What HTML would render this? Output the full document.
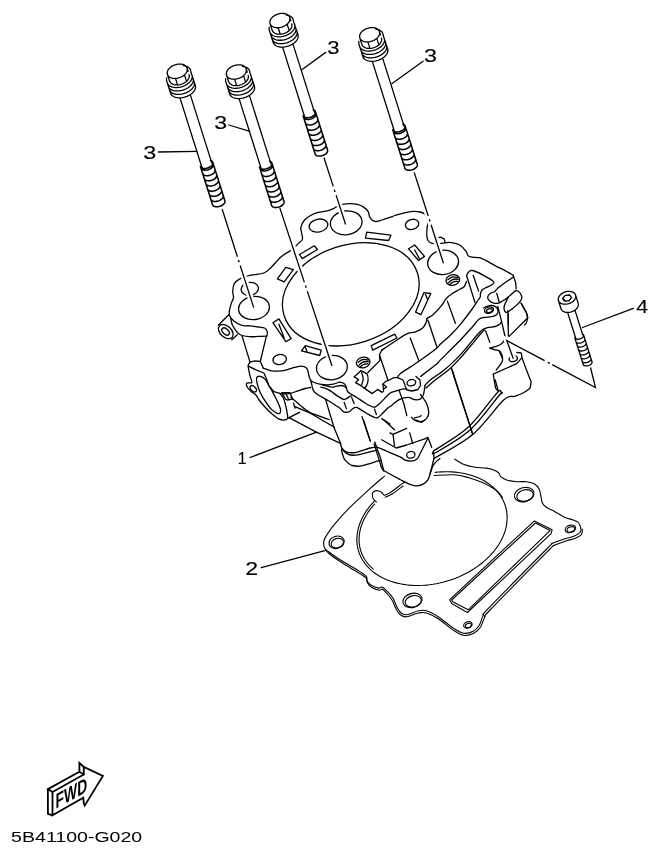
<!DOCTYPE html>
<html><head><meta charset="utf-8"><style>
html,body{margin:0;padding:0;background:#fff;}
body{width:660px;height:854px;overflow:hidden;position:relative;}
svg{position:absolute;left:0;top:0;filter:grayscale(1);}
.lbl{font-family:"Liberation Sans",sans-serif;}
</style></head><body>
<svg width="660" height="854" viewBox="0 0 660 854">
<g fill="none" stroke="#000" stroke-width="1.3" stroke-linejoin="round" stroke-linecap="round">
<path d="M187.07,68.15 L187.27,69.21 L187.22,70.31 L186.93,71.43 L186.40,72.56 L185.64,73.65 L184.68,74.68 L183.53,75.62 L182.23,76.46 L180.81,77.17 L179.29,77.74 L177.73,78.14 L176.16,78.37 L174.61,78.43 L173.13,78.32 L171.75,78.03 L170.50,77.57 L169.43,76.95 L168.54,76.20 L167.87,75.32 L167.43,74.35 L167.23,73.29 L167.28,72.19 L167.57,71.07 L168.10,69.94 L168.86,68.85 L169.82,67.82 L170.97,66.88 L172.27,66.04 L173.69,65.33 L175.21,64.76 L176.77,64.36 L178.34,64.13 L179.89,64.07 L181.37,64.18 L182.75,64.47 L184.00,64.93 L185.07,65.55 L185.96,66.30 L186.63,67.18 L187.07,68.15Z M167.43,74.35 L169.47,80.83 M187.07,68.15 L188.13,71.49 M189.12,74.64 L189.30,75.51 L189.31,76.42 L189.15,77.36 L188.82,78.30 L188.33,79.23 L187.69,80.13 L186.90,80.99 L185.98,81.80 L184.94,82.54 L183.81,83.20 L182.60,83.76 L181.34,84.22 L180.04,84.57 L178.73,84.80 L177.42,84.91 L176.15,84.90 L174.94,84.77 L173.79,84.51 L172.75,84.14 L171.81,83.66 L171.00,83.08 L170.34,82.41 L169.82,81.65 L169.47,80.83 M175.53,78.42 L177.57,84.91 M184.47,74.87 L186.52,81.35 M183.41,65.63 L184.48,65.79 L185.50,66.03 L186.45,66.34 L187.32,66.72 L188.11,67.17 L188.81,67.68 L189.41,68.25 L189.90,68.88 L190.29,69.55 L190.57,70.27 L190.73,71.02 L190.78,71.80 M166.52,77.78 L166.51,80.40 L170.54,93.18 M190.78,71.80 L195.33,85.37 M192.08,75.07 L192.29,76.10 L192.28,77.17 L192.06,78.28 L191.63,79.40 L190.99,80.52 L190.15,81.61 L189.14,82.65 L187.97,83.63 L186.65,84.53 L185.22,85.33 L183.69,86.03 L182.09,86.60 L180.45,87.05 L178.80,87.36 L177.16,87.52 L175.57,87.54 L174.05,87.41 L172.62,87.13 L171.31,86.72 L170.15,86.18 L169.15,85.51 L168.33,84.73 L167.71,83.85 L167.29,82.88 M193.17,78.50 L193.37,79.53 L193.37,80.61 L193.14,81.72 L192.71,82.84 L192.07,83.95 L191.24,85.04 L190.22,86.08 L189.05,87.06 L187.74,87.96 L186.30,88.77 L184.77,89.46 L183.17,90.04 L181.54,90.48 L179.88,90.79 L178.25,90.95 L176.65,90.97 L175.13,90.84 L173.70,90.57 L172.40,90.15 L171.23,89.61 L170.23,88.94 L169.42,88.16 L168.79,87.28 L168.37,86.32 M194.25,81.93 L194.46,82.96 L194.45,84.04 L194.23,85.15 L193.79,86.27 L193.15,87.39 L192.32,88.47 L191.31,89.52 L190.13,90.49 L188.82,91.39 L187.38,92.20 L185.85,92.90 L184.26,93.47 L182.62,93.92 L180.97,94.22 L179.33,94.39 L177.73,94.40 L176.21,94.27 L174.78,94.00 L173.48,93.59 L172.32,93.04 L171.32,92.37 L170.50,91.59 L169.87,90.71 L169.45,89.75 M195.33,85.37 L195.54,86.40 L195.53,87.47 L195.31,88.58 L194.87,89.70 L194.23,90.82 L193.40,91.91 L192.39,92.95 L191.22,93.93 L189.90,94.83 L188.47,95.63 L186.94,96.33 L185.34,96.90 L183.70,97.35 L182.05,97.66 L180.41,97.82 L178.82,97.84 L177.29,97.71 L175.87,97.43 L174.56,97.02 L173.40,96.48 L172.40,95.81 L171.58,95.03 L170.96,94.15 L170.54,93.18 M179.97,97.84 L202.02,167.77 M190.27,94.59 L211.87,163.09 "/><path d=" M200.91,167.91 L212.49,204.63 M212.80,162.38 L224.89,200.72 M210.60,160.50 L211.46,160.86 L212.14,161.35 L212.61,161.95 L212.86,162.63 L212.88,163.38 L212.67,164.16 L212.24,164.95 L211.60,165.71 L210.78,166.43 L209.80,167.07 L208.70,167.60 L207.53,168.02 L206.32,168.30 L205.12,168.44 L203.98,168.42 L202.94,168.26 L202.02,167.95 L201.28,167.50 L200.73,166.94 L200.40,166.29 M213.34,164.09 L213.44,164.69 L213.39,165.31 L213.18,165.95 L212.83,166.60 L212.33,167.23 L211.71,167.83 L210.97,168.39 L210.14,168.89 L209.24,169.32 L208.28,169.67 L207.30,169.93 L206.31,170.10 L205.34,170.17 L204.42,170.13 L203.56,169.99 L202.80,169.76 L202.14,169.44 L201.60,169.03 L201.20,168.55 L200.94,168.00 M215.08,169.63 L215.19,170.22 L215.13,170.84 L214.93,171.48 L214.57,172.13 L214.08,172.76 L213.45,173.36 L212.72,173.92 L211.89,174.42 L210.98,174.85 L210.03,175.21 L209.04,175.47 L208.06,175.63 L207.09,175.70 L206.16,175.66 L205.31,175.53 L204.54,175.29 L203.88,174.97 L203.34,174.56 L202.94,174.08 L202.69,173.54 M216.71,174.78 L216.81,175.37 L216.76,175.99 L216.55,176.63 L216.19,177.28 L215.70,177.91 L215.08,178.51 L214.34,179.07 L213.51,179.57 L212.61,180.00 L211.65,180.36 L210.67,180.62 L209.68,180.78 L208.71,180.85 L207.79,180.81 L206.93,180.68 L206.16,180.44 L205.50,180.12 L204.97,179.71 L204.56,179.23 L204.31,178.69 M218.33,179.93 L218.43,180.52 L218.38,181.14 L218.17,181.78 L217.82,182.43 L217.32,183.06 L216.70,183.66 L215.96,184.22 L215.13,184.72 L214.23,185.15 L213.27,185.51 L212.29,185.77 L211.30,185.93 L210.34,186.00 L209.41,185.96 L208.56,185.83 L207.79,185.59 L207.13,185.27 L206.59,184.86 L206.19,184.38 L205.93,183.84 M219.95,185.08 L220.06,185.67 L220.00,186.29 L219.80,186.94 L219.44,187.58 L218.95,188.21 L218.32,188.81 L217.59,189.37 L216.76,189.87 L215.85,190.30 L214.90,190.66 L213.91,190.92 L212.93,191.08 L211.96,191.15 L211.04,191.11 L210.18,190.98 L209.41,190.74 L208.75,190.42 L208.21,190.01 L207.81,189.53 L207.56,188.99 M221.58,190.23 L221.68,190.82 L221.63,191.44 L221.42,192.09 L221.07,192.73 L220.57,193.36 L219.95,193.96 L219.21,194.52 L218.38,195.02 L217.48,195.46 L216.52,195.81 L215.54,196.07 L214.55,196.23 L213.58,196.30 L212.66,196.26 L211.80,196.13 L211.04,195.89 L210.37,195.57 L209.84,195.16 L209.44,194.68 L209.18,194.14 M223.20,195.38 L223.30,195.97 L223.25,196.59 L223.05,197.24 L222.69,197.88 L222.19,198.51 L221.57,199.11 L220.84,199.67 L220.01,200.17 L219.10,200.61 L218.15,200.96 L217.16,201.22 L216.17,201.38 L215.21,201.45 L214.28,201.41 L213.43,201.28 L212.66,201.04 L212.00,200.72 L211.46,200.31 L211.06,199.83 L210.80,199.29 M224.89,200.72 L224.99,201.31 L224.94,201.93 L224.73,202.58 L224.37,203.22 L223.88,203.85 L223.26,204.46 L222.52,205.01 L221.69,205.51 L220.79,205.95 L219.83,206.30 L218.85,206.56 L217.86,206.72 L216.89,206.79 L215.97,206.75 L215.11,206.62 L214.34,206.38 L213.68,206.06 L213.14,205.65 L212.74,205.17 L212.49,204.63" stroke-width="1.55"/><path d="M246.17,68.90 L246.37,69.96 L246.32,71.06 L246.03,72.18 L245.50,73.31 L244.74,74.40 L243.78,75.43 L242.63,76.37 L241.33,77.21 L239.91,77.92 L238.39,78.49 L236.83,78.89 L235.26,79.12 L233.71,79.18 L232.23,79.07 L230.85,78.78 L229.60,78.32 L228.53,77.70 L227.64,76.95 L226.97,76.07 L226.53,75.10 L226.33,74.04 L226.38,72.94 L226.67,71.82 L227.20,70.69 L227.96,69.60 L228.92,68.57 L230.07,67.63 L231.37,66.79 L232.79,66.08 L234.31,65.51 L235.87,65.11 L237.44,64.88 L238.99,64.82 L240.47,64.93 L241.85,65.22 L243.10,65.68 L244.17,66.30 L245.06,67.05 L245.73,67.93 L246.17,68.90Z M226.53,75.10 L228.57,81.58 M246.17,68.90 L247.23,72.24 M248.22,75.39 L248.40,76.26 L248.41,77.17 L248.25,78.11 L247.92,79.05 L247.43,79.98 L246.79,80.88 L246.00,81.74 L245.08,82.55 L244.04,83.29 L242.91,83.95 L241.70,84.51 L240.44,84.97 L239.14,85.32 L237.83,85.55 L236.52,85.66 L235.25,85.65 L234.04,85.52 L232.89,85.26 L231.85,84.89 L230.91,84.41 L230.10,83.83 L229.44,83.16 L228.92,82.40 L228.57,81.58 M234.63,79.17 L236.67,85.66 M243.57,75.62 L245.62,82.10 M242.51,66.38 L243.58,66.54 L244.60,66.78 L245.55,67.09 L246.42,67.47 L247.21,67.92 L247.91,68.43 L248.51,69.00 L249.00,69.63 L249.39,70.30 L249.67,71.02 L249.83,71.77 L249.88,72.55 M225.62,78.53 L225.61,81.15 L229.64,93.93 M249.88,72.55 L254.43,86.12 M251.18,75.82 L251.39,76.85 L251.38,77.92 L251.16,79.03 L250.73,80.15 L250.09,81.27 L249.25,82.36 L248.24,83.40 L247.07,84.38 L245.75,85.28 L244.32,86.08 L242.79,86.78 L241.19,87.35 L239.55,87.80 L237.90,88.11 L236.26,88.27 L234.67,88.29 L233.15,88.16 L231.72,87.88 L230.41,87.47 L229.25,86.93 L228.25,86.26 L227.43,85.48 L226.81,84.60 L226.39,83.63 M252.27,79.25 L252.47,80.28 L252.47,81.36 L252.24,82.47 L251.81,83.59 L251.17,84.70 L250.34,85.79 L249.32,86.83 L248.15,87.81 L246.84,88.71 L245.40,89.52 L243.87,90.21 L242.27,90.79 L240.64,91.23 L238.98,91.54 L237.35,91.70 L235.75,91.72 L234.23,91.59 L232.80,91.32 L231.50,90.90 L230.33,90.36 L229.33,89.69 L228.52,88.91 L227.89,88.03 L227.47,87.07 M253.35,82.68 L253.56,83.71 L253.55,84.79 L253.33,85.90 L252.89,87.02 L252.25,88.14 L251.42,89.22 L250.41,90.27 L249.23,91.24 L247.92,92.14 L246.48,92.95 L244.95,93.65 L243.36,94.22 L241.72,94.67 L240.07,94.97 L238.43,95.14 L236.83,95.15 L235.31,95.02 L233.88,94.75 L232.58,94.34 L231.42,93.79 L230.42,93.12 L229.60,92.34 L228.97,91.46 L228.55,90.50 M254.43,86.12 L254.64,87.15 L254.63,88.22 L254.41,89.33 L253.97,90.45 L253.33,91.57 L252.50,92.66 L251.49,93.70 L250.32,94.68 L249.00,95.58 L247.57,96.38 L246.04,97.08 L244.44,97.65 L242.80,98.10 L241.15,98.41 L239.51,98.57 L237.92,98.59 L236.39,98.46 L234.97,98.18 L233.66,97.77 L232.50,97.23 L231.50,96.56 L230.68,95.78 L230.06,94.90 L229.64,93.93 M239.07,98.59 L261.12,168.52 M249.37,95.34 L270.97,163.84 "/><path d=" M260.01,168.66 L271.59,205.38 M271.90,163.13 L283.99,201.47 M269.70,161.25 L270.56,161.61 L271.24,162.10 L271.71,162.70 L271.96,163.38 L271.98,164.13 L271.77,164.91 L271.34,165.70 L270.70,166.46 L269.88,167.18 L268.90,167.82 L267.80,168.35 L266.63,168.77 L265.42,169.05 L264.22,169.19 L263.08,169.17 L262.04,169.01 L261.12,168.70 L260.38,168.25 L259.83,167.69 L259.50,167.04 M272.44,164.84 L272.54,165.44 L272.49,166.06 L272.28,166.70 L271.93,167.35 L271.43,167.98 L270.81,168.58 L270.07,169.14 L269.24,169.64 L268.34,170.07 L267.38,170.42 L266.40,170.68 L265.41,170.85 L264.44,170.92 L263.52,170.88 L262.66,170.74 L261.90,170.51 L261.24,170.19 L260.70,169.78 L260.30,169.30 L260.04,168.75 M274.18,170.38 L274.29,170.97 L274.23,171.59 L274.03,172.23 L273.67,172.88 L273.18,173.51 L272.55,174.11 L271.82,174.67 L270.99,175.17 L270.08,175.60 L269.13,175.96 L268.14,176.22 L267.16,176.38 L266.19,176.45 L265.26,176.41 L264.41,176.28 L263.64,176.04 L262.98,175.72 L262.44,175.31 L262.04,174.83 L261.79,174.29 M275.81,175.53 L275.91,176.12 L275.86,176.74 L275.65,177.38 L275.29,178.03 L274.80,178.66 L274.18,179.26 L273.44,179.82 L272.61,180.32 L271.71,180.75 L270.75,181.11 L269.77,181.37 L268.78,181.53 L267.81,181.60 L266.89,181.56 L266.03,181.43 L265.26,181.19 L264.60,180.87 L264.07,180.46 L263.66,179.98 L263.41,179.44 M277.43,180.68 L277.53,181.27 L277.48,181.89 L277.27,182.53 L276.92,183.18 L276.42,183.81 L275.80,184.41 L275.06,184.97 L274.23,185.47 L273.33,185.90 L272.37,186.26 L271.39,186.52 L270.40,186.68 L269.44,186.75 L268.51,186.71 L267.66,186.58 L266.89,186.34 L266.23,186.02 L265.69,185.61 L265.29,185.13 L265.03,184.59 M279.05,185.83 L279.16,186.42 L279.10,187.04 L278.90,187.69 L278.54,188.33 L278.05,188.96 L277.42,189.56 L276.69,190.12 L275.86,190.62 L274.95,191.05 L274.00,191.41 L273.01,191.67 L272.03,191.83 L271.06,191.90 L270.14,191.86 L269.28,191.73 L268.51,191.49 L267.85,191.17 L267.31,190.76 L266.91,190.28 L266.66,189.74 M280.68,190.98 L280.78,191.57 L280.73,192.19 L280.52,192.84 L280.17,193.48 L279.67,194.11 L279.05,194.71 L278.31,195.27 L277.48,195.77 L276.58,196.21 L275.62,196.56 L274.64,196.82 L273.65,196.98 L272.68,197.05 L271.76,197.01 L270.90,196.88 L270.14,196.64 L269.47,196.32 L268.94,195.91 L268.54,195.43 L268.28,194.89 M282.30,196.13 L282.40,196.72 L282.35,197.34 L282.15,197.99 L281.79,198.63 L281.29,199.26 L280.67,199.86 L279.94,200.42 L279.11,200.92 L278.20,201.36 L277.25,201.71 L276.26,201.97 L275.27,202.13 L274.31,202.20 L273.38,202.16 L272.53,202.03 L271.76,201.79 L271.10,201.47 L270.56,201.06 L270.16,200.58 L269.90,200.04 M283.99,201.47 L284.09,202.06 L284.04,202.68 L283.83,203.33 L283.47,203.97 L282.98,204.60 L282.36,205.21 L281.62,205.76 L280.79,206.26 L279.89,206.70 L278.93,207.05 L277.95,207.31 L276.96,207.47 L275.99,207.54 L275.07,207.50 L274.21,207.37 L273.44,207.13 L272.78,206.81 L272.24,206.40 L271.84,205.92 L271.59,205.38" stroke-width="1.55"/><path d="M289.72,17.45 L289.92,18.51 L289.87,19.61 L289.58,20.73 L289.05,21.86 L288.29,22.95 L287.33,23.98 L286.18,24.92 L284.88,25.76 L283.46,26.47 L281.94,27.04 L280.38,27.44 L278.81,27.67 L277.26,27.73 L275.78,27.62 L274.40,27.33 L273.15,26.87 L272.08,26.25 L271.19,25.50 L270.52,24.62 L270.08,23.65 L269.88,22.59 L269.93,21.49 L270.22,20.37 L270.75,19.24 L271.51,18.15 L272.47,17.12 L273.62,16.18 L274.92,15.34 L276.34,14.63 L277.86,14.06 L279.42,13.66 L280.99,13.43 L282.54,13.37 L284.02,13.48 L285.40,13.77 L286.65,14.23 L287.72,14.85 L288.61,15.60 L289.28,16.48 L289.72,17.45Z M270.08,23.65 L272.12,30.13 M289.72,17.45 L290.78,20.79 M291.77,23.94 L291.95,24.81 L291.96,25.72 L291.80,26.66 L291.47,27.60 L290.98,28.53 L290.34,29.43 L289.55,30.29 L288.63,31.10 L287.59,31.84 L286.46,32.50 L285.25,33.06 L283.99,33.52 L282.69,33.87 L281.38,34.10 L280.07,34.21 L278.80,34.20 L277.59,34.07 L276.44,33.81 L275.40,33.44 L274.46,32.96 L273.65,32.38 L272.99,31.71 L272.47,30.95 L272.12,30.13 M278.18,27.72 L280.22,34.21 M287.12,24.17 L289.17,30.65 M286.06,14.93 L287.13,15.09 L288.15,15.33 L289.10,15.64 L289.97,16.02 L290.76,16.47 L291.46,16.98 L292.06,17.55 L292.55,18.18 L292.94,18.85 L293.22,19.57 L293.38,20.32 L293.43,21.10 M269.17,27.08 L269.16,29.70 L273.19,42.48 M293.43,21.10 L297.98,34.67 M294.73,24.37 L294.94,25.40 L294.93,26.47 L294.71,27.58 L294.28,28.70 L293.64,29.82 L292.80,30.91 L291.79,31.95 L290.62,32.93 L289.30,33.83 L287.87,34.63 L286.34,35.33 L284.74,35.90 L283.10,36.35 L281.45,36.66 L279.81,36.82 L278.22,36.84 L276.70,36.71 L275.27,36.43 L273.96,36.02 L272.80,35.48 L271.80,34.81 L270.98,34.03 L270.36,33.15 L269.94,32.18 M295.82,27.80 L296.02,28.83 L296.02,29.91 L295.79,31.02 L295.36,32.14 L294.72,33.25 L293.89,34.34 L292.87,35.38 L291.70,36.36 L290.39,37.26 L288.95,38.07 L287.42,38.76 L285.82,39.34 L284.19,39.78 L282.53,40.09 L280.90,40.25 L279.30,40.27 L277.78,40.14 L276.35,39.87 L275.05,39.45 L273.88,38.91 L272.88,38.24 L272.07,37.46 L271.44,36.58 L271.02,35.62 M296.90,31.23 L297.11,32.26 L297.10,33.34 L296.88,34.45 L296.44,35.57 L295.80,36.69 L294.97,37.77 L293.96,38.82 L292.78,39.79 L291.47,40.69 L290.03,41.50 L288.50,42.20 L286.91,42.77 L285.27,43.22 L283.62,43.52 L281.98,43.69 L280.38,43.70 L278.86,43.57 L277.43,43.30 L276.13,42.89 L274.97,42.34 L273.97,41.67 L273.15,40.89 L272.52,40.01 L272.10,39.05 M297.98,34.67 L298.19,35.70 L298.18,36.77 L297.96,37.88 L297.52,39.00 L296.88,40.12 L296.05,41.21 L295.04,42.25 L293.87,43.23 L292.55,44.13 L291.12,44.93 L289.59,45.63 L287.99,46.20 L286.35,46.65 L284.70,46.96 L283.06,47.12 L281.47,47.14 L279.94,47.01 L278.52,46.73 L277.21,46.32 L276.05,45.78 L275.05,45.11 L274.23,44.33 L273.61,43.45 L273.19,42.48 M282.62,47.14 L304.67,117.07 M292.92,43.89 L314.52,112.39 "/><path d=" M303.56,117.21 L315.14,153.93 M315.45,111.68 L327.54,150.02 M313.25,109.80 L314.11,110.16 L314.79,110.65 L315.26,111.25 L315.51,111.93 L315.53,112.68 L315.32,113.46 L314.89,114.25 L314.25,115.01 L313.43,115.73 L312.45,116.37 L311.35,116.90 L310.18,117.32 L308.97,117.60 L307.77,117.74 L306.63,117.72 L305.59,117.56 L304.67,117.25 L303.93,116.80 L303.38,116.24 L303.05,115.59 M315.99,113.39 L316.09,113.99 L316.04,114.61 L315.83,115.25 L315.48,115.90 L314.98,116.53 L314.36,117.13 L313.62,117.69 L312.79,118.19 L311.89,118.62 L310.93,118.97 L309.95,119.23 L308.96,119.40 L307.99,119.47 L307.07,119.43 L306.21,119.29 L305.45,119.06 L304.79,118.74 L304.25,118.33 L303.85,117.85 L303.59,117.30 M317.73,118.93 L317.84,119.52 L317.78,120.14 L317.58,120.78 L317.22,121.43 L316.73,122.06 L316.10,122.66 L315.37,123.22 L314.54,123.72 L313.63,124.15 L312.68,124.51 L311.69,124.77 L310.71,124.93 L309.74,125.00 L308.81,124.96 L307.96,124.83 L307.19,124.59 L306.53,124.27 L305.99,123.86 L305.59,123.38 L305.34,122.84 M319.36,124.08 L319.46,124.67 L319.41,125.29 L319.20,125.93 L318.84,126.58 L318.35,127.21 L317.73,127.81 L316.99,128.37 L316.16,128.87 L315.26,129.30 L314.30,129.66 L313.32,129.92 L312.33,130.08 L311.36,130.15 L310.44,130.11 L309.58,129.98 L308.81,129.74 L308.15,129.42 L307.62,129.01 L307.21,128.53 L306.96,127.99 M320.98,129.23 L321.08,129.82 L321.03,130.44 L320.82,131.08 L320.47,131.73 L319.97,132.36 L319.35,132.96 L318.61,133.52 L317.78,134.02 L316.88,134.45 L315.92,134.81 L314.94,135.07 L313.95,135.23 L312.99,135.30 L312.06,135.26 L311.21,135.13 L310.44,134.89 L309.78,134.57 L309.24,134.16 L308.84,133.68 L308.58,133.14 M322.60,134.38 L322.71,134.97 L322.65,135.59 L322.45,136.24 L322.09,136.88 L321.60,137.51 L320.97,138.11 L320.24,138.67 L319.41,139.17 L318.50,139.60 L317.55,139.96 L316.56,140.22 L315.58,140.38 L314.61,140.45 L313.69,140.41 L312.83,140.28 L312.06,140.04 L311.40,139.72 L310.86,139.31 L310.46,138.83 L310.21,138.29 M324.23,139.53 L324.33,140.12 L324.28,140.74 L324.07,141.39 L323.72,142.03 L323.22,142.66 L322.60,143.26 L321.86,143.82 L321.03,144.32 L320.13,144.76 L319.17,145.11 L318.19,145.37 L317.20,145.53 L316.23,145.60 L315.31,145.56 L314.45,145.43 L313.69,145.19 L313.02,144.87 L312.49,144.46 L312.09,143.98 L311.83,143.44 M325.85,144.68 L325.95,145.27 L325.90,145.89 L325.70,146.54 L325.34,147.18 L324.84,147.81 L324.22,148.41 L323.49,148.97 L322.66,149.47 L321.75,149.91 L320.80,150.26 L319.81,150.52 L318.82,150.68 L317.86,150.75 L316.93,150.71 L316.08,150.58 L315.31,150.34 L314.65,150.02 L314.11,149.61 L313.71,149.13 L313.45,148.59 M327.54,150.02 L327.64,150.61 L327.59,151.23 L327.38,151.88 L327.02,152.52 L326.53,153.15 L325.91,153.76 L325.17,154.31 L324.34,154.81 L323.44,155.25 L322.48,155.60 L321.50,155.86 L320.51,156.02 L319.54,156.09 L318.62,156.05 L317.76,155.92 L316.99,155.68 L316.33,155.36 L315.79,154.95 L315.39,154.47 L315.14,153.93" stroke-width="1.55"/><path d="M379.42,31.65 L379.62,32.71 L379.57,33.81 L379.28,34.93 L378.75,36.06 L377.99,37.15 L377.03,38.18 L375.88,39.12 L374.58,39.96 L373.16,40.67 L371.64,41.24 L370.08,41.64 L368.51,41.87 L366.96,41.93 L365.48,41.82 L364.10,41.53 L362.85,41.07 L361.78,40.45 L360.89,39.70 L360.22,38.82 L359.78,37.85 L359.58,36.79 L359.63,35.69 L359.92,34.57 L360.45,33.44 L361.21,32.35 L362.17,31.32 L363.32,30.38 L364.62,29.54 L366.04,28.83 L367.56,28.26 L369.12,27.86 L370.69,27.63 L372.24,27.57 L373.72,27.68 L375.10,27.97 L376.35,28.43 L377.42,29.05 L378.31,29.80 L378.98,30.68 L379.42,31.65Z M359.78,37.85 L361.82,44.33 M379.42,31.65 L380.48,34.99 M381.47,38.14 L381.65,39.01 L381.66,39.92 L381.50,40.86 L381.17,41.80 L380.68,42.73 L380.04,43.63 L379.25,44.49 L378.33,45.30 L377.29,46.04 L376.16,46.70 L374.95,47.26 L373.69,47.72 L372.39,48.07 L371.08,48.30 L369.77,48.41 L368.50,48.40 L367.29,48.27 L366.14,48.01 L365.10,47.64 L364.16,47.16 L363.35,46.58 L362.69,45.91 L362.17,45.15 L361.82,44.33 M367.88,41.92 L369.92,48.41 M376.82,38.37 L378.87,44.85 M375.76,29.13 L376.83,29.29 L377.85,29.53 L378.80,29.84 L379.67,30.22 L380.46,30.67 L381.16,31.18 L381.76,31.75 L382.25,32.38 L382.64,33.05 L382.92,33.77 L383.08,34.52 L383.13,35.30 M358.87,41.28 L358.86,43.90 L362.89,56.68 M383.13,35.30 L387.68,48.87 M384.43,38.57 L384.64,39.60 L384.63,40.67 L384.41,41.78 L383.98,42.90 L383.34,44.02 L382.50,45.11 L381.49,46.15 L380.32,47.13 L379.00,48.03 L377.57,48.83 L376.04,49.53 L374.44,50.10 L372.80,50.55 L371.15,50.86 L369.51,51.02 L367.92,51.04 L366.40,50.91 L364.97,50.63 L363.66,50.22 L362.50,49.68 L361.50,49.01 L360.68,48.23 L360.06,47.35 L359.64,46.38 M385.52,42.00 L385.72,43.03 L385.72,44.11 L385.49,45.22 L385.06,46.34 L384.42,47.45 L383.59,48.54 L382.57,49.58 L381.40,50.56 L380.09,51.46 L378.65,52.27 L377.12,52.96 L375.52,53.54 L373.89,53.98 L372.23,54.29 L370.60,54.45 L369.00,54.47 L367.48,54.34 L366.05,54.07 L364.75,53.65 L363.58,53.11 L362.58,52.44 L361.77,51.66 L361.14,50.78 L360.72,49.82 M386.60,45.43 L386.81,46.46 L386.80,47.54 L386.58,48.65 L386.14,49.77 L385.50,50.89 L384.67,51.97 L383.66,53.02 L382.48,53.99 L381.17,54.89 L379.73,55.70 L378.20,56.40 L376.61,56.97 L374.97,57.42 L373.32,57.72 L371.68,57.89 L370.08,57.90 L368.56,57.77 L367.13,57.50 L365.83,57.09 L364.67,56.54 L363.67,55.87 L362.85,55.09 L362.22,54.21 L361.80,53.25 M387.68,48.87 L387.89,49.90 L387.88,50.97 L387.66,52.08 L387.22,53.20 L386.58,54.32 L385.75,55.41 L384.74,56.45 L383.57,57.43 L382.25,58.33 L380.82,59.13 L379.29,59.83 L377.69,60.40 L376.05,60.85 L374.40,61.16 L372.76,61.32 L371.17,61.34 L369.64,61.21 L368.22,60.93 L366.91,60.52 L365.75,59.98 L364.75,59.31 L363.93,58.53 L363.31,57.65 L362.89,56.68 M372.32,61.34 L394.37,131.27 M382.62,58.09 L404.22,126.59 "/><path d=" M393.26,131.41 L404.84,168.13 M405.15,125.88 L417.24,164.22 M402.95,124.00 L403.81,124.36 L404.49,124.85 L404.96,125.45 L405.21,126.13 L405.23,126.88 L405.02,127.66 L404.59,128.45 L403.95,129.21 L403.13,129.93 L402.15,130.57 L401.05,131.10 L399.88,131.52 L398.67,131.80 L397.47,131.94 L396.33,131.92 L395.29,131.76 L394.37,131.45 L393.63,131.00 L393.08,130.44 L392.75,129.79 M405.69,127.59 L405.79,128.19 L405.74,128.81 L405.53,129.45 L405.18,130.10 L404.68,130.73 L404.06,131.33 L403.32,131.89 L402.49,132.39 L401.59,132.82 L400.63,133.17 L399.65,133.43 L398.66,133.60 L397.69,133.67 L396.77,133.63 L395.91,133.49 L395.15,133.26 L394.49,132.94 L393.95,132.53 L393.55,132.05 L393.29,131.50 M407.43,133.13 L407.54,133.72 L407.48,134.34 L407.28,134.98 L406.92,135.63 L406.43,136.26 L405.80,136.86 L405.07,137.42 L404.24,137.92 L403.33,138.35 L402.38,138.71 L401.39,138.97 L400.41,139.13 L399.44,139.20 L398.51,139.16 L397.66,139.03 L396.89,138.79 L396.23,138.47 L395.69,138.06 L395.29,137.58 L395.04,137.04 M409.06,138.28 L409.16,138.87 L409.11,139.49 L408.90,140.13 L408.54,140.78 L408.05,141.41 L407.43,142.01 L406.69,142.57 L405.86,143.07 L404.96,143.50 L404.00,143.86 L403.02,144.12 L402.03,144.28 L401.06,144.35 L400.14,144.31 L399.28,144.18 L398.51,143.94 L397.85,143.62 L397.32,143.21 L396.91,142.73 L396.66,142.19 M410.68,143.43 L410.78,144.02 L410.73,144.64 L410.52,145.28 L410.17,145.93 L409.67,146.56 L409.05,147.16 L408.31,147.72 L407.48,148.22 L406.58,148.65 L405.62,149.01 L404.64,149.27 L403.65,149.43 L402.69,149.50 L401.76,149.46 L400.91,149.33 L400.14,149.09 L399.48,148.77 L398.94,148.36 L398.54,147.88 L398.28,147.34 M412.30,148.58 L412.41,149.17 L412.35,149.79 L412.15,150.44 L411.79,151.08 L411.30,151.71 L410.67,152.31 L409.94,152.87 L409.11,153.37 L408.20,153.80 L407.25,154.16 L406.26,154.42 L405.28,154.58 L404.31,154.65 L403.39,154.61 L402.53,154.48 L401.76,154.24 L401.10,153.92 L400.56,153.51 L400.16,153.03 L399.91,152.49 M413.93,153.73 L414.03,154.32 L413.98,154.94 L413.77,155.59 L413.42,156.23 L412.92,156.86 L412.30,157.46 L411.56,158.02 L410.73,158.52 L409.83,158.96 L408.87,159.31 L407.89,159.57 L406.90,159.73 L405.93,159.80 L405.01,159.76 L404.15,159.63 L403.39,159.39 L402.72,159.07 L402.19,158.66 L401.79,158.18 L401.53,157.64 M415.55,158.88 L415.65,159.47 L415.60,160.09 L415.40,160.74 L415.04,161.38 L414.54,162.01 L413.92,162.61 L413.19,163.17 L412.36,163.67 L411.45,164.11 L410.50,164.46 L409.51,164.72 L408.52,164.88 L407.56,164.95 L406.63,164.91 L405.78,164.78 L405.01,164.54 L404.35,164.22 L403.81,163.81 L403.41,163.33 L403.15,162.79 M417.24,164.22 L417.34,164.81 L417.29,165.43 L417.08,166.08 L416.72,166.72 L416.23,167.35 L415.61,167.96 L414.87,168.51 L414.04,169.01 L413.14,169.45 L412.18,169.80 L411.20,170.06 L410.21,170.22 L409.24,170.29 L408.32,170.25 L407.46,170.12 L406.69,169.88 L406.03,169.56 L405.49,169.15 L405.09,168.67 L404.84,168.13" stroke-width="1.55"/><path d="M575.58,295.09 L575.76,296.04 L575.73,297.02 L575.48,298.03 L575.02,299.03 L574.37,300.00 L573.53,300.92 L572.53,301.75 L571.40,302.50 L570.15,303.12 L568.83,303.62 L567.47,303.97 L566.09,304.17 L564.74,304.21 L563.44,304.10 L562.23,303.83 L561.13,303.41 L560.18,302.85 L559.40,302.17 L558.81,301.38 L558.42,300.51 L558.24,299.56 L558.27,298.58 L558.52,297.57 L558.98,296.57 L559.63,295.60 L560.47,294.68 L561.47,293.85 L562.60,293.10 L563.85,292.48 L565.17,291.98 L566.53,291.63 L567.91,291.43 L569.26,291.39 L570.56,291.50 L571.77,291.77 L572.87,292.19 L573.82,292.75 L574.60,293.43 L575.19,294.22 L575.58,295.09Z M558.42,300.51 L561.00,308.71 M575.58,295.09 L578.17,303.30 M578.17,303.30 L578.34,304.08 L578.35,304.89 L578.22,305.73 L577.94,306.57 L577.51,307.40 L576.95,308.20 L576.27,308.97 L575.47,309.69 L574.57,310.34 L573.58,310.92 L572.53,311.42 L571.42,311.82 L570.28,312.12 L569.14,312.32 L568.00,312.41 L566.88,312.39 L565.82,312.26 L564.81,312.03 L563.89,311.69 L563.07,311.25 L562.36,310.73 L561.77,310.12 L561.32,309.44 L561.00,308.71 M571.57,297.67 L569.00,300.76 L564.53,301.17 L562.61,298.51 L565.18,295.42 L569.65,295.00Z M562.61,298.51 L564.78,300.07 M567.57,312.42 L575.66,338.06 M574.92,310.10 L582.70,334.79 M574.94,338.29 L583.21,364.51 M583.42,334.57 L591.99,361.75 M583.57,335.04 L583.63,335.55 L583.53,336.10 L583.26,336.65 L582.83,337.20 L582.27,337.72 L581.58,338.19 L580.80,338.59 L579.96,338.91 L579.09,339.13 L578.22,339.25 L577.39,339.26 L576.63,339.16 L575.97,338.95 L575.42,338.65 L575.03,338.27 L574.79,337.81 M584.80,338.95 L584.87,339.46 L584.76,340.01 L584.49,340.56 L584.07,341.11 L583.50,341.63 L582.81,342.10 L582.03,342.50 L581.19,342.82 L580.32,343.04 L579.45,343.16 L578.62,343.17 L577.86,343.07 L577.20,342.86 L576.66,342.56 L576.26,342.18 L576.02,341.72 M586.03,342.86 L586.10,343.37 L586.00,343.92 L585.73,344.47 L585.30,345.02 L584.73,345.54 L584.05,346.01 L583.27,346.41 L582.43,346.73 L581.56,346.95 L580.69,347.07 L579.86,347.08 L579.10,346.98 L578.43,346.77 L577.89,346.47 L577.49,346.09 L577.26,345.63 M587.26,346.77 L587.33,347.28 L587.23,347.83 L586.96,348.38 L586.53,348.93 L585.96,349.45 L585.28,349.92 L584.50,350.32 L583.66,350.64 L582.79,350.86 L581.92,350.98 L581.09,350.99 L580.33,350.89 L579.66,350.68 L579.12,350.38 L578.73,350.00 L578.49,349.54 M588.50,350.68 L588.57,351.19 L588.46,351.74 L588.19,352.29 L587.77,352.84 L587.20,353.36 L586.51,353.83 L585.73,354.23 L584.89,354.55 L584.02,354.77 L583.15,354.89 L582.32,354.90 L581.56,354.80 L580.90,354.59 L580.36,354.29 L579.96,353.91 L579.72,353.45 M589.73,354.59 L589.80,355.10 L589.70,355.65 L589.43,356.20 L589.00,356.75 L588.43,357.27 L587.74,357.74 L586.97,358.14 L586.12,358.46 L585.25,358.68 L584.39,358.80 L583.56,358.81 L582.79,358.71 L582.13,358.50 L581.59,358.20 L581.19,357.82 L580.96,357.36 M590.96,358.50 L591.03,359.01 L590.93,359.56 L590.66,360.11 L590.23,360.66 L589.66,361.18 L588.98,361.65 L588.20,362.05 L587.36,362.37 L586.49,362.59 L585.62,362.71 L584.79,362.72 L584.03,362.62 L583.36,362.41 L582.82,362.11 L582.43,361.73 L582.19,361.27 M591.99,361.75 L592.05,362.26 L591.95,362.80 L591.68,363.36 L591.25,363.90 L590.69,364.42 L590.00,364.89 L589.22,365.29 L588.38,365.61 L587.51,365.83 L586.64,365.95 L585.81,365.96 L585.05,365.86 L584.38,365.66 L583.84,365.36 L583.45,364.97 L583.21,364.51"/>
<!-- leaders -->
<path d="M158.4,152 L196.8,151.4"/>
<path d="M228.9,125 L249.8,131.3"/>
<path d="M325.7,52.4 L301.8,69.7"/>
<path d="M423.1,61.2 L391.8,83.7"/>
<path d="M250,457.5 L316.5,432.2"/>
<path d="M261.2,567.6 L324.9,550.7"/>
<path d="M582.5,327.5 L633.3,308.3"/>
<!-- FWD -->
<g stroke-width="1.8" stroke-linejoin="miter"><path d="M52.5,792 L83.8,774.5 L83.8,767 L102.9,776 L84.7,805.6 L83.8,803.4 L83.3,797.8 L52.5,815.3 Z"/>
<path d="M52.5,792 L47.9,789.1 L79.4,771.8 L79.4,762.9 L83.8,767 M79.4,771.8 L83.8,774.5 M47.9,789.1 L47.9,813.8 L52.5,815.3"/></g>
<!-- top deck outline -->
<path d="M229.40,310.50 C229.70,309.35 230.52,305.75 231.20,303.60 C231.88,301.45 233.25,299.62 233.50,297.60 C233.75,295.58 232.58,293.78 232.70,291.50 C232.82,289.22 232.93,286.05 234.20,283.90 C235.47,281.75 237.52,280.05 240.30,278.60 C243.08,277.15 246.98,276.13 250.90,275.20 C254.82,274.27 260.52,274.20 263.80,273.00 C267.08,271.80 267.70,270.72 270.60,268.00 C273.50,265.28 277.67,259.73 281.20,256.70 C284.73,253.67 289.02,251.93 291.80,249.80 C294.58,247.67 296.13,245.63 297.90,243.90 C299.67,242.17 301.77,241.17 302.40,239.40 C303.03,237.63 301.95,235.32 301.70,233.30 C301.45,231.28 300.43,229.52 300.90,227.30 C301.37,225.08 302.88,221.97 304.50,220.00 C306.12,218.03 308.32,216.77 310.60,215.50 C312.88,214.23 315.42,213.17 318.20,212.40 C320.98,211.63 324.78,211.53 327.30,210.90 C329.82,210.27 331.67,209.35 333.30,208.60 C334.93,207.85 335.58,207.10 337.10,206.40 C338.62,205.70 340.25,204.87 342.40,204.40 C344.55,203.93 347.47,203.60 350.00,203.60 C352.53,203.60 355.33,203.82 357.60,204.40 C359.87,204.98 361.83,205.88 363.60,207.10 C365.37,208.32 367.18,210.05 368.20,211.70 C369.22,213.35 369.07,215.62 369.70,217.00 C370.33,218.38 370.98,219.25 372.00,220.00 C373.02,220.75 374.17,221.50 375.80,221.50 C377.43,221.50 379.28,220.75 381.80,220.00 C384.32,219.25 388.70,217.75 390.90,217.00 C393.10,216.25 392.80,216.18 395.00,215.50 C397.20,214.82 401.07,213.58 404.10,212.90 C407.13,212.22 410.55,211.55 413.20,211.40 C415.85,211.25 418.12,211.58 420.00,212.00 C421.88,212.42 423.32,213.00 424.50,213.90 C425.68,214.80 426.52,216.13 427.10,217.40 C427.68,218.67 428.00,219.68 428.00,221.50 C428.00,223.32 427.30,226.02 427.10,228.30 C426.90,230.58 426.65,233.17 426.80,235.20 C426.95,237.23 427.23,239.17 428.00,240.50 C428.77,241.83 429.95,242.65 431.40,243.20 C432.85,243.75 434.43,243.85 436.70,243.80 C438.97,243.75 442.93,243.15 445.00,242.90 C447.07,242.65 447.43,242.23 449.10,242.30 C450.77,242.37 453.22,242.85 455.00,243.30 C456.78,243.75 457.98,243.70 459.80,245.00 C461.62,246.30 464.48,249.28 465.90,251.10 C467.32,252.92 467.28,254.90 468.30,255.90 C469.32,256.90 470.18,256.80 472.00,257.10 C473.82,257.40 476.98,257.18 479.20,257.70 C481.42,258.22 482.67,258.88 485.30,260.20 C487.93,261.52 491.57,263.78 495.00,265.60 C498.43,267.42 502.87,269.48 505.90,271.10 C508.93,272.72 511.98,274.60 513.20,275.30"/>
<path d="M435.9,238.2 L440.5,237.1 L444.2,238.9 L445,242"/>
<!-- left lower outline of deck -->
<path d="M229.40,310.50 C229.45,311.42 228.90,314.22 229.70,316.00 C230.50,317.78 232.18,319.63 234.20,321.20 C236.22,322.77 239.27,324.63 241.80,325.40 C244.33,326.17 246.87,325.57 249.40,325.80 C251.93,326.03 254.48,326.43 257.00,326.80 C259.52,327.17 262.78,327.17 264.50,328.00 C266.22,328.83 266.92,330.40 267.30,331.80 C267.68,333.20 266.88,335.63 266.80,336.40"/>
<!-- bore -->
<ellipse cx="350.8" cy="294.3" rx="70" ry="49.2" transform="rotate(-17.9 350.8 294.3)"/>
<!-- big holes -->
<ellipse cx="254" cy="308" rx="15.5" ry="11.6" transform="rotate(-8 254 308)"/>
<ellipse cx="346.2" cy="222.8" rx="15.9" ry="11.9" transform="rotate(-8 346.2 222.8)"/>
<ellipse cx="443.1" cy="262.4" rx="15.5" ry="12.1" transform="rotate(-8 443.1 262.4)"/>
<ellipse cx="331.9" cy="367.6" rx="15.5" ry="12.1" transform="rotate(-8 331.9 367.6)"/>
<!-- small holes -->
<ellipse cx="249.8" cy="288.9" rx="8.7" ry="6.5" transform="rotate(-10 249.8 288.9)"/>
<ellipse cx="318.5" cy="225.6" rx="9.5" ry="6.4" transform="rotate(-12 318.5 225.6)"/>
<ellipse cx="412.1" cy="224.4" rx="6.8" ry="5.0" transform="rotate(-15 412.1 224.4)"/>
<ellipse cx="279.7" cy="359.5" rx="6.8" ry="5.0" transform="rotate(-12 279.7 359.5)"/>
<!-- threaded holes -->
<ellipse cx="452.8" cy="280.0" rx="6.9" ry="5.2" transform="rotate(-12 452.8 280.0)"/><path d="M447.8,279.9 Q451.8,275.2 457.8,277.6 M448.6,282.6 Q452.8,278.0 458.2,279.3 M449.7,284.7 Q452.8,280.8 457.5,281.4"/>
<ellipse cx="363.2" cy="362.5" rx="6.9" ry="5.2" transform="rotate(-12 363.2 362.5)"/><path d="M358.2,362.4 Q362.2,357.7 368.2,360.1 M359.0,365.1 Q363.2,360.5 368.6,361.8 M360.1,367.2 Q363.2,363.3 367.9,363.9"/>


<!-- slots -->
<path d="M277.4,278.8 L285.8,267.4 L293.3,269.7 L284.2,281.8 Z"/>
<path d="M299.5,254.5 L314.4,245.8 L317.4,249.5 L302.3,258.6 Z"/>
<path d="M366.7,232.1 L390.9,235.2 L388.6,240.5 L365.5,238.2 Z"/>
<path d="M408.6,248.8 L414.7,245 L424.5,256.4 L418.5,260.5 Z M414.7,250 L419.5,259"/>
<path d="M423.9,292.7 L430.8,293.5 L420.9,314.7 L415.6,312.1 Z M425.5,294.5 L427.8,300"/>
<path d="M371.2,345.6 L394.7,334.2 L397,338 L372.7,350.2 Z"/>
<path d="M301.5,350.9 L305.3,345.6 L321.2,350.2 L319.7,355.5 Z M305.3,347 L307,351.5"/>
<path d="M272.9,322.7 L278.9,318.9 L291.1,338.6 L285.8,341.7 Z M278.9,324.2 L284.2,337.9"/>
<!-- right side front edge -->
<path d="M381.50,350.30 C383.78,348.78 390.90,343.98 395.20,341.20 C399.50,338.42 404.03,335.12 407.30,333.60 C410.57,332.08 412.28,332.98 414.80,332.10 C417.32,331.22 420.50,329.93 422.40,328.30 C424.30,326.67 425.43,323.93 426.20,322.30 C426.97,320.67 425.87,319.77 427.00,318.50 C428.13,317.23 430.48,316.98 433.00,314.70 C435.52,312.42 439.95,307.45 442.10,304.80 C444.25,302.15 444.38,300.57 445.90,298.80 C447.42,297.03 449.05,295.72 451.20,294.20 C453.35,292.68 456.65,290.95 458.80,289.70 C460.95,288.45 462.82,288.08 464.10,286.70 C465.38,285.32 466.10,282.28 466.50,281.40"/>

<path d="M466.5,275.3 L475,302.6 M473.2,275.3 L478.6,291.1"/>
<path d="M513.2,275.3 L515.6,282.6 L516.2,288.6 M513.2,277.1 L503.5,283.8 L497.4,288.6 L495,291.1"/>
<path d="M495.00,291.70 C494.20,292.00 491.42,292.60 490.20,293.50 C488.98,294.40 487.82,295.88 487.70,297.10 C487.58,298.32 488.48,299.78 489.50,300.80 C490.52,301.82 492.08,302.90 493.80,303.20 C495.52,303.50 497.38,303.62 499.80,302.60 C502.22,301.58 505.67,299.12 508.30,297.10 C510.93,295.08 514.38,291.60 515.60,290.50 M496.80,293.50 L499.20,302.00"/>
<path d="M515.60,290.50 C516.00,290.60 517.08,290.40 518.00,291.10 C518.92,291.80 520.48,293.50 521.10,294.70 C521.72,295.90 522.02,296.98 521.70,298.30 C521.38,299.62 520.62,300.98 519.20,302.60 C517.78,304.22 515.22,306.38 513.20,308.00 C511.18,309.62 508.52,311.78 507.10,312.30 C505.68,312.82 505.20,312.02 504.70,311.10 C504.20,310.18 503.90,308.32 504.10,306.80 C504.30,305.28 505.20,303.62 505.90,302.00 C506.60,300.38 507.90,297.92 508.30,297.10"/>
<path d="M521.1,303.2 L526.5,312.9 L527.7,317.7 L526.5,322.6 L524.7,325 M508.3,314.1 L508.3,325"/>
<!-- deck thickness lines right -->



<!-- left boss -->
<ellipse cx="225.8" cy="331.6" rx="8.6" ry="5.6" transform="rotate(42 225.8 331.6)"/>
<ellipse cx="225.6" cy="331.5" rx="4.4" ry="2.7" transform="rotate(42 225.6 331.5)"/>
<path d="M218.5,325 L228.8,314.8 M231.8,339.7 L237.3,334.8"/>
<!-- deck thickness left -->
<path d="M230.60,318.00 C230.83,319.00 231.40,322.30 232.00,324.00 C232.60,325.70 233.22,326.70 234.20,328.20 C235.18,329.70 236.58,331.78 237.90,333.00 C239.22,334.22 240.08,334.88 242.10,335.50 C244.12,336.12 247.27,336.55 250.00,336.70 C252.73,336.85 255.77,336.50 258.50,336.40 C261.23,336.30 265.08,336.15 266.40,336.10"/>
<!-- web -->
<path d="M242.1,336.1 L250,362.1 L254.8,360.9 L260.3,361.5 L266.4,336.1"/>
<!-- bracket -->
<path d="M250.00,362.10 C249.70,362.77 248.20,363.82 248.20,366.10 C248.20,368.38 249.40,373.08 250.00,375.80 C250.60,378.52 252.30,381.20 251.80,382.40 C251.30,383.60 247.80,382.28 247.00,383.00 C246.20,383.72 246.30,385.28 247.00,386.70 C247.70,388.12 249.68,390.08 251.20,391.50 C252.72,392.92 254.78,393.78 256.10,395.20 C257.42,396.62 257.58,397.98 259.10,400.00 C260.62,402.02 263.18,405.08 265.20,407.30 C267.22,409.52 268.98,411.38 271.20,413.30 C273.42,415.22 276.28,417.68 278.50,418.80 C280.72,419.92 282.98,420.10 284.50,420.00 C286.02,419.90 287.18,419.52 287.60,418.20 C288.02,416.88 287.40,414.53 287.00,412.10 C286.60,409.67 285.82,405.95 285.20,403.60 C284.58,401.25 284.22,399.72 283.30,398.00 C282.38,396.28 280.30,394.08 279.70,393.30"/>
<path d="M248.2,366.1 L256,369.8 L263.9,373 L266.5,379 L268.8,385.5 L273.6,391.5"/>
<path d="M260.3,361.5 L263.3,368.2"/>
<path d="M256.70,377.60 C257.20,376.30 258.88,376.10 260.30,376.40 C261.72,376.70 263.78,377.88 265.20,379.40 C266.62,380.92 267.40,383.08 268.80,385.50 C270.20,387.92 272.08,391.08 273.60,393.90 C275.12,396.72 276.78,399.97 277.90,402.40 C279.02,404.83 279.90,406.78 280.30,408.50 C280.70,410.22 280.80,411.90 280.30,412.70 C279.80,413.50 278.82,413.90 277.30,413.30 C275.78,412.70 273.22,411.12 271.20,409.10 C269.18,407.08 267.02,403.93 265.20,401.20 C263.38,398.47 261.62,395.53 260.30,392.70 C258.98,389.87 257.90,386.72 257.30,384.20 C256.70,381.68 256.20,378.90 256.70,377.60Z"/>
<ellipse cx="253.3" cy="388.8" rx="3.8" ry="2.3" transform="rotate(45 253.3 388.8)"/>
<!-- deck lower edge left-center -->

<path d="M273.60,391.50 C274.62,391.80 277.88,392.90 279.70,393.30 C281.52,393.70 282.68,393.90 284.50,393.90 C286.32,393.90 288.37,393.80 290.60,393.30 C292.83,392.80 295.47,391.70 297.90,390.90 C300.33,390.10 303.10,389.07 305.20,388.50 C307.30,387.93 309.62,387.67 310.50,387.50"/>

<!-- bolt2 boss outline  -->

<!-- revised deck edges around bolt2 boss -->
<path d="M263.30,368.20 C264.52,368.60 268.17,370.10 270.60,370.60 C273.03,371.10 275.50,371.23 277.90,371.20 C280.30,371.17 282.70,370.88 285.00,370.40 C287.30,369.92 289.33,368.98 291.70,368.30 C294.07,367.62 297.12,366.57 299.20,366.30 C301.28,366.03 302.88,366.28 304.20,366.70 C305.52,367.12 306.42,367.83 307.10,368.80 C307.78,369.77 307.95,371.18 308.30,372.50 C308.65,373.82 308.78,375.38 309.20,376.70 C309.62,378.02 309.97,379.43 310.80,380.40 C311.63,381.37 312.67,381.87 314.20,382.50 C315.73,383.13 317.92,383.78 320.00,384.20 C322.08,384.62 324.48,385.00 326.70,385.00 C328.92,385.00 331.37,384.62 333.30,384.20 C335.23,383.78 337.18,382.85 338.30,382.50 C339.42,382.15 339.12,381.98 340.00,382.10 C340.88,382.22 342.62,382.57 343.60,383.20 C344.58,383.83 345.37,384.85 345.90,385.90 C346.43,386.95 346.42,388.43 346.80,389.50 C347.18,390.57 347.37,391.47 348.20,392.30 C349.03,393.13 350.28,393.60 351.80,394.50 C353.32,395.40 355.48,396.55 357.30,397.70 C359.12,398.85 360.88,400.18 362.70,401.40 C364.52,402.62 366.53,404.10 368.20,405.00 C369.87,405.90 371.48,406.50 372.70,406.80 C373.92,407.10 374.43,407.25 375.50,406.80 C376.57,406.35 377.60,405.47 379.10,404.10 C380.60,402.73 382.68,400.42 384.50,398.60 C386.32,396.78 388.30,394.40 390.00,393.20 C391.70,392.00 392.65,392.08 394.70,391.40 C396.75,390.72 400.28,389.48 402.30,389.10 C404.32,388.72 406.05,389.10 406.80,389.10"/>
<path d="M310.80,380.80 C310.95,381.37 311.42,382.95 311.70,384.20 C311.98,385.45 312.08,387.05 312.50,388.30 C312.92,389.55 313.23,390.58 314.20,391.70 C315.17,392.82 316.78,393.97 318.30,395.00 C319.82,396.03 321.63,396.93 323.30,397.90 C324.97,398.87 326.35,399.62 328.30,400.80 C330.25,401.98 333.05,403.75 335.00,405.00 C336.95,406.25 338.57,407.17 340.00,408.30 C341.43,409.43 342.08,411.22 343.60,411.80 C345.12,412.38 347.73,412.18 349.10,411.80 C350.47,411.42 350.90,410.18 351.80,409.50 C352.70,408.82 353.58,408.00 354.50,407.70 C355.42,407.40 355.32,406.78 357.30,407.70 C359.28,408.62 363.53,411.57 366.40,413.20 C369.27,414.83 372.53,416.82 374.50,417.50 C376.47,418.18 376.83,418.02 378.20,417.30 C379.57,416.58 381.03,414.80 382.70,413.20 C384.37,411.60 386.95,408.82 388.20,407.70 C389.45,406.58 388.37,407.83 390.20,406.50 C392.03,405.17 396.18,401.22 399.20,399.70 C402.22,398.18 405.77,397.40 408.30,397.40 C410.83,397.40 412.37,399.45 414.40,399.70 C416.43,399.95 418.98,399.78 420.50,398.90 C422.02,398.02 422.75,396.67 423.50,394.40 C424.25,392.13 424.75,386.82 425.00,385.30"/>
<path d="M320.80,387.10 C321.78,387.38 324.88,388.03 326.70,388.80 C328.52,389.57 329.93,390.52 331.70,391.70 C333.47,392.88 335.32,394.62 337.30,395.90 C339.28,397.18 342.08,398.95 343.60,399.40 C345.12,399.85 345.33,399.10 346.40,398.60 C347.47,398.10 349.10,396.85 350.00,396.40 C350.90,395.95 351.50,395.98 351.80,395.90"/>
<path d="M322.50,385.00 C324.03,385.35 329.53,386.87 331.70,387.10 C333.87,387.33 333.97,386.67 335.50,386.40 C337.03,386.13 339.40,385.50 340.90,385.50 C342.40,385.50 343.58,385.95 344.50,386.40 C345.42,386.85 346.08,387.90 346.40,388.20"/>
<path d="M344.1,402.3 L346.4,408.6 M351.8,397.7 L354.1,403.6 M374.5,409.1 L376.4,414.5"/>
<!-- body lines -->
<path d="M290,418.2 L315.9,431.8 L340.5,443.4"/>
<path d="M289.1,417.7 L299.5,412.3 M293.6,403.2 L295,408.2"/>
<path d="M290.90,397.30 C292.12,398.35 295.47,401.33 298.20,403.60 C300.93,405.87 304.27,408.70 307.30,410.90 C310.33,413.10 311.87,414.07 316.40,416.80 C320.93,419.53 331.48,425.55 334.50,427.30"/>
<path d="M294.50,406.40 C296.63,407.30 301.53,409.62 307.30,411.80 C313.07,413.98 325.47,418.22 329.10,419.50"/>
<path d="M281.8,392.7 L285.5,399.1 L287.3,400 L292.7,399.1 L290,392.7 Z M285.5,393 L288.5,399"/>
<path d="M325.5,399.1 L333.9,427.3 L340.8,443.9"/>
<path d="M287.6,418.2 L290,418.2"/>
<!-- base flange front (left) -->
<path d="M340.50,443.40 C340.67,444.05 340.57,445.90 341.50,447.30 C342.43,448.70 343.82,450.92 346.10,451.80 C348.38,452.68 352.43,452.85 355.20,452.60 C357.97,452.35 360.18,451.07 362.70,450.30 C365.22,449.53 368.15,448.50 370.30,448.00 C372.45,447.50 374.72,447.42 375.60,447.30"/>
<path d="M341.50,448.80 C342.52,449.68 345.32,453.03 347.60,454.10 C349.88,455.17 352.43,455.33 355.20,455.20 C357.97,455.07 360.67,454.12 364.20,453.30 C367.73,452.48 374.37,450.80 376.40,450.30"/>
<path d="M341.50,450.00 C341.63,450.55 341.80,451.73 342.30,453.30 C342.80,454.87 343.37,457.65 344.50,459.40 C345.63,461.15 347.83,462.78 349.10,463.80 C350.37,464.82 350.33,465.10 352.10,465.50 C353.87,465.90 356.92,466.47 359.70,466.20 C362.48,465.93 365.77,464.78 368.80,463.90 C371.83,463.02 375.88,461.40 377.90,460.90 C379.92,460.40 380.40,460.90 380.90,460.90"/>
<path d="M363.5,420 L370.3,441.2"/>
<!-- front lower block -->
<path d="M374.80,442.00 C375.18,443.13 376.08,445.90 377.10,448.80 C378.12,451.70 379.88,456.12 380.90,459.40 C381.92,462.68 382.43,466.48 383.20,468.50 C383.97,470.52 382.60,469.62 385.50,471.50 C388.40,473.38 396.82,477.78 400.60,479.80 C404.38,481.82 405.67,482.58 408.20,483.60 C410.73,484.62 413.40,485.77 415.80,485.90 C418.20,486.03 420.58,485.42 422.60,484.40 C424.62,483.38 426.52,481.95 427.90,479.80 C429.28,477.65 430.02,473.88 430.90,471.50 C431.78,469.12 432.18,467.27 433.20,465.50 C434.22,463.73 435.87,462.05 437.00,460.90 C438.13,459.75 439.50,458.98 440.00,458.60"/>
<path d="M375.60,446.50 C378.00,447.52 385.83,450.83 390.00,452.60 C394.17,454.37 398.07,455.83 400.60,457.10 C403.13,458.37 403.18,459.57 405.20,460.20 C407.22,460.83 410.68,461.17 412.70,460.90 C414.72,460.63 416.03,459.87 417.30,458.60 C418.57,457.33 419.05,455.70 420.30,453.30 C421.55,450.90 423.53,446.72 424.80,444.20 C426.07,441.68 427.38,439.20 427.90,438.20"/>
<ellipse cx="410.8" cy="454.8" rx="4.2" ry="3.3" transform="rotate(-15 410.8 454.8)"/>
<path d="M381.7,439.7 L396.1,448 L406.7,445 L424.8,438.9 L427.9,437.4 L431.7,447.3"/>
<path d="M390,432.9 L393,434.4 L394.5,445.8 M393,434.4 L406.7,428.3 M409.7,432.9 L412.7,443.5 M383.9,420 L394.5,429.8 M415.8,420 L421.8,422.3 L424.8,420"/>
<!-- center body: bump, vertical lines -->



<path d="M362,416.7 L370.3,440.9"/>
<path d="M374.1,443.9 L377.9,456.1 L381.7,468.2 L383.9,471.2"/>
<!-- right frame -->


<path d="M420.50,394.40 C421.50,395.92 425.12,400.47 426.50,403.50 C427.88,406.53 428.80,410.08 428.80,412.60 C428.80,415.12 427.88,417.08 426.50,418.60 C425.12,420.12 422.52,421.43 420.50,421.70 C418.48,421.97 415.92,420.97 414.40,420.20 C412.88,419.43 411.90,417.62 411.40,417.10 M414.40,418.00 C415.33,417.75 418.90,416.92 420.00,416.50 C421.10,416.08 420.83,415.67 421.00,415.50"/>
<path d="M399.2,390.6 L403.8,403.5 L406.8,415.6"/>
<path d="M379.5,355 L387.9,380"/>
<path d="M397.7,377.7 L403,380 L405,385"/>
<ellipse cx="411.4" cy="382.7" rx="4.4" ry="3.1" transform="rotate(-15 411.4 382.7)"/>
<path d="M405,386 L407,390 L412,391 L418,389.5 L420.5,385.5 L420,380 L416,376.5"/>




<path d="M451.5,368.2 L455,380 L469.4,423.9 L472.4,433.8"/>
<path d="M452.3,370.2 L472,432.3"/>


<ellipse cx="513.3" cy="358.8" rx="4.2" ry="2.7" transform="rotate(-15 513.3 358.8)"/>
<path d="M493.2,374.2 L516.7,363.6 L522,357.6 L521.2,353 L516.7,352.3 M522,357.6 L525.8,368.2 L531.1,381.8 L530.5,386 M493.2,374.2 L495.5,387.9 L497.7,390.9"/>
<path d="M495.2,380 L498.2,390.6"/>
<!-- right side deck lines (revised) -->
<path d="M466.50,275.30 C467.52,274.50 468.25,269.58 472.60,270.50 C476.95,271.42 489.47,278.38 492.60,280.80 C495.73,283.22 492.42,283.90 491.40,285.00 C490.38,286.10 488.02,286.60 486.50,287.40 C484.98,288.20 483.30,288.78 482.30,289.80 C481.30,290.82 480.85,292.30 480.50,293.50 C480.15,294.70 480.58,295.92 480.20,297.00 C479.82,298.08 479.60,297.92 478.20,300.00 C476.80,302.08 474.63,305.62 471.80,309.50 C468.97,313.38 464.73,319.05 461.20,323.30 C457.67,327.55 454.13,331.47 450.60,335.00 C447.07,338.53 442.37,342.25 440.00,344.50 C437.63,346.75 440.03,345.62 436.40,348.50 C432.77,351.38 424.27,357.57 418.20,361.80 C412.13,366.03 403.42,371.25 400.00,373.90 C396.58,376.55 398.08,377.07 397.70,377.70"/>
<path d="M410.3,338.2 L418.8,360.6 M427.9,320 L437,347.3 M447.4,301.1 L455.4,323.3"/>
<path d="M420.60,376.40 C423.23,374.37 433.17,366.87 436.40,364.20 C439.63,361.53 437.63,362.80 440.00,360.40 C442.37,358.00 447.07,353.33 450.60,349.80 C454.13,346.27 457.67,342.90 461.20,339.20 C464.73,335.50 468.80,330.95 471.80,327.60 C474.80,324.25 477.08,320.78 479.20,319.10 C481.32,317.42 482.20,317.95 484.50,317.50 C486.80,317.05 490.87,317.02 493.00,316.40 C495.13,315.78 496.50,314.95 497.30,313.80 C498.10,312.65 498.17,310.73 497.80,309.50 C497.43,308.27 496.25,307.10 495.10,306.40 C493.95,305.70 492.30,305.30 490.90,305.30 C489.50,305.30 487.93,305.95 486.70,306.40 C485.47,306.85 484.03,307.73 483.50,308.00"/>
<ellipse cx="489" cy="310.1" rx="4.6" ry="3.1" transform="rotate(-15 489 310.1)"/>
<ellipse cx="489.4" cy="310.6" rx="3.0" ry="1.9" transform="rotate(-15 489.4 310.6)"/>
<path d="M425.00,385.30 C425.88,384.42 427.10,382.55 430.30,380.00 C433.50,377.45 439.93,373.43 444.20,370.00 C448.47,366.57 452.18,363.12 455.90,359.40 C459.62,355.68 462.97,351.77 466.50,347.70 C470.03,343.63 474.45,338.00 477.10,335.00 C479.75,332.00 480.63,330.93 482.40,329.70 C484.17,328.47 485.58,328.13 487.70,327.60 C489.82,327.07 493.15,327.03 495.10,326.50 C497.05,325.97 498.42,325.10 499.40,324.40 C500.38,323.70 500.73,322.65 501.00,322.30"/>
<path d="M426.00,388.00 C427.53,386.67 431.45,383.00 435.20,380.00 C438.95,377.00 444.52,373.43 448.50,370.00 C452.48,366.57 455.22,363.65 459.10,359.40 C462.98,355.15 467.92,349.10 471.80,344.50 C475.68,339.90 480.28,334.18 482.40,331.80 C484.52,329.42 484.15,330.47 484.50,330.20"/>
<path d="M485.6,330.8 L489.8,342.4"/>
<path d="M489.80,348.20 C490.68,347.95 493.33,347.32 495.10,346.70 C496.87,346.08 498.98,345.38 500.40,344.50 C501.82,343.62 502.88,342.80 503.60,341.40 C504.32,340.00 504.52,336.98 504.70,336.10"/>
<path d="M489.80,348.20 C490.68,348.47 493.50,349.35 495.10,349.80 C496.70,350.25 498.33,350.18 499.40,350.90 C500.47,351.62 500.97,353.03 501.50,354.10 C502.03,355.17 502.42,356.77 502.60,357.30"/>
<path d="M499.40,351.40 C499.93,352.73 502.33,357.37 502.60,359.40 C502.87,361.43 502.07,361.83 501.00,363.60 C499.93,365.37 497.00,368.93 496.20,370.00"/>
<path d="M497.8,306.4 L501.5,321.2 L504.7,335 L506.1,340.9 M507.9,310.6 L508.4,336 M521.1,303.2 L526.5,312.9 L527.7,317.7 L525.8,319.7 L509.1,336.4"/>
<!-- base flange right (diagonal) -->
<path d="M433.60,450.90 C439.37,446.97 457.73,436.85 468.20,427.30 C478.67,417.75 490.95,399.52 496.40,393.60 C501.85,387.68 500.00,391.80 500.90,391.80 C501.80,391.80 502.10,392.98 501.80,393.60 C501.50,394.22 504.40,389.43 499.10,395.50 C493.80,401.57 480.60,420.47 470.00,430.00 C459.40,439.53 441.57,449.22 435.50,452.70 C429.43,456.18 433.92,451.20 433.60,450.90"/>

<path d="M434.00,458.50 C440.45,454.50 461.10,444.25 472.70,434.50 C484.30,424.75 496.63,406.35 503.60,400.00 C510.57,393.65 511.43,397.48 514.50,396.40 C517.57,395.32 519.57,394.72 522.00,393.50 C524.43,392.28 527.68,390.35 529.10,389.10 C530.52,387.85 530.27,386.52 530.50,386.00"/>
<path d="M433.6,452.5 L434,458.5 L430,473.9"/>

<!-- misc small lines lower center-right -->
<path d="M381.8,418.6 L390,424.1"/>
<!-- ornament near threaded hole -->
<path d="M360.9,370.8 L354.1,376.9 L358.6,379.5 L355.6,382.6 L360.9,385.6 L363.9,387.9 L372.3,393.6 L377.6,389.4 L382.1,392.4 L383.6,390.9 L382.9,384.1 L385.9,381.1 L388.9,380.3 L393.5,377.7 L397.7,377.7"/>
<path d="M360.90,370.80 C361.92,371.37 365.80,372.62 367.00,374.20 C368.20,375.78 368.23,378.27 368.10,380.30 C367.97,382.33 366.90,385.13 366.20,386.40 C365.50,387.67 364.28,387.65 363.90,387.90"/>
<path d="M361.70,372.70 C361.95,373.72 363.20,376.78 363.20,378.80 C363.20,380.82 361.95,383.80 361.70,384.80"/>
<path d="M367.7,372.7 L379.8,360.6 L379.5,354.5 L382.1,350"/>
<path d="M382.9,384.1 L386.5,387 L384.5,388.5"/>
<g stroke-width="1.1">
<!-- gasket outer edge -->
<path d="M384.50,476.10 C382.00,478.27 375.40,483.75 369.50,489.10 C363.60,494.45 354.77,502.52 349.10,508.20 C343.43,513.88 339.13,518.88 335.50,523.20 C331.87,527.52 329.23,531.15 327.30,534.10 C325.37,537.05 324.37,538.63 323.90,540.90 C323.43,543.17 323.72,545.88 324.50,547.70 C325.28,549.52 326.07,549.83 328.60,551.80 C331.13,553.77 334.57,556.23 339.70,559.50 C344.83,562.77 354.97,568.60 359.40,571.40 C363.83,574.20 364.98,574.67 366.30,576.30 C367.62,577.93 366.48,579.72 367.30,581.20 C368.12,582.68 369.23,584.05 371.20,585.20 C373.17,586.35 377.30,587.78 379.10,588.10 C380.90,588.42 380.68,586.60 382.00,587.10 C383.32,587.60 385.18,589.28 387.00,591.10 C388.82,592.92 391.27,595.38 392.90,598.00 C394.53,600.62 395.48,604.35 396.80,606.80 C398.12,609.25 399.15,611.38 400.80,612.70 C402.45,614.02 403.75,615.02 406.70,614.70 C409.65,614.38 415.22,611.45 418.50,610.80 C421.78,610.15 423.12,609.82 426.40,610.80 C429.68,611.78 433.67,613.78 438.20,616.70 C442.73,619.62 449.38,625.55 453.60,628.30 C457.82,631.05 460.22,632.72 463.50,633.20 C466.78,633.68 470.68,632.52 473.30,631.20 C475.92,629.88 477.55,627.92 479.20,625.30 C480.85,622.68 481.55,618.45 483.20,615.50 C484.85,612.55 478.60,618.60 489.10,607.60 C499.60,596.60 535.70,560.17 546.20,549.50 C556.70,538.83 549.80,545.08 552.10,543.60 C554.40,542.12 557.57,541.48 560.00,540.60 C562.43,539.72 564.20,539.10 566.70,538.30 C569.20,537.50 572.78,536.77 575.00,535.80 C577.22,534.83 579.03,533.75 580.00,532.50 C580.97,531.25 581.08,529.97 580.80,528.30 C580.52,526.63 579.55,523.88 578.30,522.50 C577.05,521.12 575.52,520.83 573.30,520.00 C571.08,519.17 568.05,518.88 565.00,517.50 C561.95,516.12 558.05,513.37 555.00,511.70 C551.95,510.03 548.78,508.90 546.70,507.50 C544.62,506.10 543.48,505.25 542.50,503.30 C541.52,501.35 541.35,498.15 540.80,495.80 C540.25,493.45 540.17,491.13 539.20,489.20 C538.23,487.27 537.08,485.45 535.00,484.20 C532.92,482.95 529.75,482.12 526.70,481.70 C523.65,481.28 520.03,481.98 516.70,481.70 C513.37,481.42 509.35,480.83 506.70,480.00 C504.05,479.17 502.20,477.95 500.80,476.70 C499.40,475.45 499.82,473.75 498.30,472.50 C496.78,471.25 494.00,469.95 491.70,469.20 C489.40,468.45 487.28,468.32 484.50,468.00 C481.72,467.68 478.63,467.98 475.00,467.30 C471.37,466.62 466.12,465.27 462.70,463.90 C459.28,462.53 455.87,459.90 454.50,459.10"/>
<!-- thickness line lower-left/bottom -->
<path d="M325.50,550.00 C326.17,550.67 327.08,552.08 329.50,554.00 C331.92,555.92 335.02,558.27 340.00,561.50 C344.98,564.73 355.07,570.65 359.40,573.40 C363.73,576.15 364.65,576.40 366.00,578.00 C367.35,579.60 366.58,581.47 367.50,583.00 C368.42,584.53 369.50,586.00 371.50,587.20 C373.50,588.40 377.67,589.87 379.50,590.20 C381.33,590.53 381.33,588.73 382.50,589.20 C383.67,589.67 384.92,591.20 386.50,593.00 C388.08,594.80 390.42,597.37 392.00,600.00 C393.58,602.63 394.62,606.35 396.00,608.80 C397.38,611.25 398.52,613.37 400.30,614.70 C402.08,616.03 403.67,617.08 406.70,616.80 C409.73,616.52 415.22,613.63 418.50,613.00 C421.78,612.37 423.12,612.03 426.40,613.00 C429.68,613.97 433.67,615.90 438.20,618.80 C442.73,621.70 449.38,627.65 453.60,630.40 C457.82,633.15 460.13,634.82 463.50,635.30 C466.87,635.78 470.97,634.68 473.80,633.30 C476.63,631.92 478.67,629.72 480.50,627.00 C482.33,624.28 483.13,619.92 484.80,617.00 C486.47,614.08 480.05,620.42 490.50,609.50 C500.95,598.58 537.00,562.12 547.50,551.50 C558.00,540.88 551.25,547.25 553.50,545.80 C555.75,544.35 558.67,543.68 561.00,542.80 C563.33,541.92 565.00,541.30 567.50,540.50 C570.00,539.70 573.67,539.00 576.00,538.00 C578.33,537.00 580.45,536.00 581.50,534.50 C582.55,533.00 582.17,529.92 582.30,529.00"/>
<!-- bore -->
<path d="M374.46,501.06 L372.36,503.31 L370.38,505.61 L368.51,507.96 L366.78,510.35 L365.18,512.78 L363.71,515.24 L362.37,517.72 L361.18,520.23 L360.13,522.75 L359.22,525.29 L358.46,527.83 L357.84,530.37 L357.37,532.91 L357.06,535.45 L356.89,537.96 L356.87,540.46 L357.00,542.94 L357.29,545.38 L357.72,547.80 L358.30,550.17 L359.03,552.50 L359.90,554.79 L360.92,557.02 L362.08,559.19 L363.38,561.30 L364.82,563.35 L366.39,565.33 L368.10,567.23 L369.93,569.06 L371.88,570.81 L373.96,572.47 L376.15,574.04 L378.46,575.53 L380.87,576.92 L383.38,578.21 L385.99,579.40 L388.70,580.49 L391.49,581.48 L394.36,582.36 L397.30,583.14 L400.32,583.80 L403.40,584.36 L406.53,584.80 L409.72,585.13 L412.95,585.35 L416.22,585.45 L419.52,585.44 L422.85,585.32 L426.19,585.08 L429.55,584.73 L432.91,584.27 L436.27,583.70 L439.62,583.01 L442.96,582.22 L446.27,581.32 L449.55,580.31 L452.80,579.20 L456.01,577.99 L459.17,576.68 L462.28,575.28 L465.32,573.78 L468.30,572.19 L471.21,570.51 L474.04,568.75 L476.78,566.91 L479.43,565.00 L481.99,563.01 L484.45,560.95 L486.80,558.82 L489.05,556.64 L491.18,554.40 L493.19,552.11 L495.08,549.77 L496.84,547.39 L498.48,544.97 L499.98,542.52 L501.34,540.04 L502.56,537.53 L503.65,535.01 L504.59,532.48 L505.39,529.94 L506.03,527.40 L506.53,524.85 L506.89,522.32 L507.09,519.80 L507.14,517.30 L507.04,514.82 L506.79,512.36 L506.39,509.94 L505.84,507.56 L505.15,505.22 L504.31,502.92 L503.32,500.68 L502.19,498.49 L500.92,496.36 L499.51,494.30 L497.97,492.31 L496.30,490.39 L494.49,488.54 L492.56,486.78 L490.51,485.10 L488.35,483.50 L486.07,482.00 L483.68,480.59 L481.19,479.27 L478.60,478.06 L475.92,476.94 L473.15,475.93 L470.29,475.03 L467.36,474.23 L464.36,473.54 L461.30,472.96 L458.18,472.49 L455.00,472.13 L451.78,471.89 L448.52,471.76 L445.22,471.75 L441.90,471.84 L438.56,472.06 L435.20,472.38"/>
<path d="M374.62,504.05 L373.19,505.65 L371.82,507.27 L370.51,508.92 L369.27,510.59 L368.09,512.27 L366.98,513.98 L365.94,515.70 L364.97,517.43 L364.07,519.18 L363.24,520.93 L362.49,522.70 L361.81,524.46 L361.20,526.24 L360.66,528.01 L360.21,529.79 L359.82,531.57 L359.52,533.34 L359.29,535.11 L359.14,536.87 L359.06,538.62 L359.06,540.36 L359.14,542.09 L359.30,543.80 L359.53,545.50 L359.84,547.18 L360.22,548.84 L360.68,550.48 L361.22,552.10 L361.83,553.69 L362.51,555.26 L363.27,556.79 L364.10,558.30 L365.01,559.78 L365.98,561.22 L367.02,562.63 L368.13,564.00 L369.31,565.34 L370.56,566.63 L371.87,567.89 L373.24,569.10"/>
<path d="M434.10,475.50 C437.50,475.38 448.82,474.47 454.50,474.80 C460.18,475.13 463.65,476.25 468.20,477.50 C472.75,478.75 478.17,480.82 481.80,482.30 C485.43,483.78 487.47,484.95 490.00,486.40 C492.53,487.85 494.92,489.15 497.00,491.00 C499.08,492.85 501.58,496.42 502.50,497.50"/>
<!-- notch at bore top-left -->
<path d="M376.40,502.00 C375.92,501.50 374.18,500.25 373.50,499.00 C372.82,497.75 372.28,495.70 372.30,494.50 C372.32,493.30 372.70,492.43 373.60,491.80 C374.50,491.17 376.33,490.58 377.70,490.70 C379.07,490.82 380.67,491.75 381.80,492.50 C382.93,493.25 382.90,495.32 384.50,495.20 C386.10,495.08 388.43,493.73 391.40,491.80 C394.37,489.87 400.03,485.18 402.30,483.60 C404.57,482.02 404.55,482.52 405.00,482.30"/>
<path d="M385.20,497.30 C386.40,496.72 389.43,495.68 392.40,493.80 C395.37,491.92 401.23,487.30 403.00,486.00"/>
<!-- holes -->
<ellipse cx="336.6" cy="542.3" rx="7.8" ry="6.1" transform="rotate(-18 336.6 542.3)"/>
<ellipse cx="337.3" cy="543.1" rx="6.3" ry="4.7" transform="rotate(-18 337.3 543.1)"/>
<ellipse cx="412.5" cy="600.4" rx="9.8" ry="7.0" transform="rotate(-15 412.5 600.4)"/>
<ellipse cx="413.3" cy="601.3" rx="8.2" ry="5.6" transform="rotate(-15 413.3 601.3)"/>
<ellipse cx="524.2" cy="494.6" rx="10" ry="7.0" transform="rotate(-15 524.2 494.6)"/>
<ellipse cx="525" cy="495.5" rx="8.4" ry="5.6" transform="rotate(-15 525 495.5)"/>
<ellipse cx="570.4" cy="528.8" rx="5.4" ry="3.6" transform="rotate(-18 570.4 528.8)"/>
<ellipse cx="570.9" cy="529.4" rx="4.0" ry="2.5" transform="rotate(-18 570.9 529.4)"/>
<ellipse cx="467.9" cy="624.9" rx="4.4" ry="3.1" transform="rotate(-20 467.9 624.9)"/>
<ellipse cx="468.4" cy="625.5" rx="3.1" ry="2.1" transform="rotate(-20 468.4 625.5)"/>
<!-- slot -->
<path d="M534.4,520.9 L552.1,529.8 L551.1,533.7 L467.4,612.5 L451.7,603.6 L449.7,599.7 Z"/>
<path d="M535.4,523 L550,530.6 L468.2,609.8 L452.8,601.8 L451.6,600 Z"/>

</g>

<path d="M222.10,209.00 L253.70,307.60" stroke="#fff" stroke-width="6" stroke-linecap="butt"/><path d="M222.10,209.00 L253.70,307.60" stroke-dasharray="50.1 3.4 2.4 3.4 300" stroke-linecap="butt"/><path d="M279.80,207.90 L332.00,366.00" stroke="#fff" stroke-width="6" stroke-linecap="butt"/><path d="M279.80,207.90 L332.00,366.00" stroke-dasharray="78.4 3.4 2.4 3.4 300" stroke-linecap="butt"/><path d="M323.90,157.50 L345.60,224.50" stroke="#fff" stroke-width="6" stroke-linecap="butt"/><path d="M323.90,157.50 L345.60,224.50" stroke-dasharray="30.4 3.4 2.4 3.4 300" stroke-linecap="butt"/><path d="M414.20,172.40 L443.50,263.40" stroke="#fff" stroke-width="6" stroke-linecap="butt"/><path d="M414.20,172.40 L443.50,263.40" stroke-dasharray="45.8 3.4 2.4 3.4 300" stroke-linecap="butt"/><path d="M590.5,367.5 L595.5,387.6 L506.8,340.6 L513.3,358.8" stroke="#fff" stroke-width="6" stroke-linecap="butt" stroke-linejoin="miter"/><path d="M590.5,367.5 L595.5,387.6 L506.8,340.6 L513.3,358.8" stroke-dasharray="69.7 2.6 2.6 3.4 300" stroke-linecap="butt" stroke-linejoin="miter"/>
</g>
<g fill="#000" stroke="none" font-family="Liberation Sans, sans-serif" font-size="100">
<text transform="matrix(0.2340 0 0 0.1789 143.26 159.22)" stroke="#000" stroke-width="0.8">3</text>
<text transform="matrix(0.2319 0 0 0.1789 214.27 129.32)" stroke="#000" stroke-width="0.8">3</text>
<text transform="matrix(0.2213 0 0 0.1761 327.31 54.12)" stroke="#000" stroke-width="0.8">3</text>
<text transform="matrix(0.2340 0 0 0.1789 424.06 62.42)" stroke="#000" stroke-width="0.8">3</text>
<text transform="matrix(0.1581 0 0 0.1725 237.83 463.90)" stroke="#000" stroke-width="0.8">1</text>
<text transform="matrix(0.2304 0 0 0.1857 245.25 574.80)" stroke="#000" stroke-width="0.8">2</text>
<text transform="matrix(0.2137 0 0 0.1809 636.17 312.58)" stroke="#000" stroke-width="0.8">4</text>
<text transform="matrix(0.1955 0 0 0.1535 11.12 841.75)">5B41100-G020</text>
<text font-weight="bold" transform="matrix(0.1390 -0.0778 0 0.2100 55.6 809.05)">FWD</text>
</g>

</svg>
</body></html>
